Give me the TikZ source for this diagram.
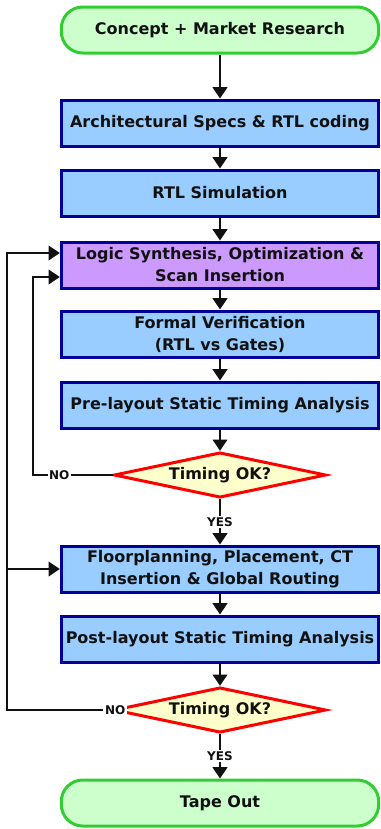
\documentclass[tikz,border=0pt]{standalone}
\usepackage{fontspec}
\setmainfont{DejaVu Sans}
\definecolor{flink}{HTML}{111111}
\definecolor{flgreen}{HTML}{33CC33}
\definecolor{flgreenbg}{HTML}{CCFFCC}
\definecolor{flnavy}{HTML}{000099}
\definecolor{flblue}{HTML}{99CCFF}
\definecolor{flpurple}{HTML}{CC99FF}
\definecolor{flred}{HTML}{FF0000}
\definecolor{flcream}{HTML}{FFFFCC}
\usetikzlibrary{arrows.meta,shapes.geometric}
\tikzset{
  flbase/.style  ={rectangle, line width=2.25pt, minimum width=238pt, minimum height=34.5pt,
                   align=center, text=flink, inner sep=2pt,
                   font=\fontsize{12}{16.5}\selectfont\bfseries},
  flterm/.style  ={flbase, rounded corners=16pt, draw=flgreen, fill=flgreenbg},
  flbox/.style   ={flbase, draw=flnavy, fill=flblue},
  flsynth/.style ={flbox, fill=flpurple},
  fldec/.style   ={flbase, diamond, aspect=4.6, draw=flred, fill=flcream, inner sep=0pt,
                   minimum width=159pt, minimum height=34pt},
  flarrow/.style ={-{Triangle[length=8.5pt,width=11pt]}, line width=1.5pt, draw=flink},
  fllbl/.style   ={fill=white, inner sep=1pt, text=flink,
                   font=\fontsize{9}{10}\selectfont\bfseries},
}

\begin{document}
\begin{tikzpicture}[x=0.75pt, y=-0.75pt]
  \useasboundingbox (0,0) rectangle (381,829);
  \node[flterm]  (start)  at (220,30)  {Concept + Market Research};
  \node[flbox]   (arch)   at (220,123) {Architectural Specs \& RTL coding};
  \node[flbox]   (rtlsim) at (220,193) {RTL Simulation};
  \node[flsynth] (synth)  at (220,265) {Logic Synthesis, Optimization \&\\Scan Insertion};
  \node[flbox]   (formal) at (220,334) {Formal Verification\\(RTL vs Gates)};
  \node[flbox]   (prests) at (220,405) {Pre-layout Static Timing Analysis};
  \node[fldec]   (dec1)   at (220,475) {Timing OK?};
  \node[flbox]   (place)  at (220,569) {Floorplanning, Placement, CT\\Insertion \& Global Routing};
  \node[flbox]   (poststs) at (220,639) {Post-layout Static Timing Analysis};
  \node[fldec]   (dec2)   at (220,710) {Timing OK?};
  \node[flterm]  (tape)   at (220,803) {Tape Out};
  % main flow
  \draw[flarrow] (start) -- (arch);
  \draw[flarrow] (arch) -- (rtlsim);
  \draw[flarrow] (rtlsim) -- (synth);
  \draw[flarrow] (synth) -- (formal);
  \draw[flarrow] (formal) -- (prests);
  \draw[flarrow] (prests) -- (dec1);
  \draw[flarrow] (dec1) -- node[fllbl]{YES} (place);
  \draw[flarrow] (place) -- (poststs);
  \draw[flarrow] (poststs) -- (dec2);
  \draw[flarrow] (dec2) -- node[fllbl]{YES} (tape);
  % loops back
  \coordinate (innerc) at (33,475);
  \coordinate (outerc) at (7,710);
  \coordinate (outerj) at (7,569);
  \draw[flarrow] (dec1.west) -- node[fllbl, pos=0.67]{NO} (innerc) |- ([yshift=-9pt]synth.west);
  \node[fllbl] (no2) at ([xshift=2pt]dec2.west) {NO};
  \draw[flarrow] (no2.west) -- (outerc) |- ([yshift=9pt]synth.west);
  \draw[flarrow] (outerj) -- (place.west);
\end{tikzpicture}
\end{document}
